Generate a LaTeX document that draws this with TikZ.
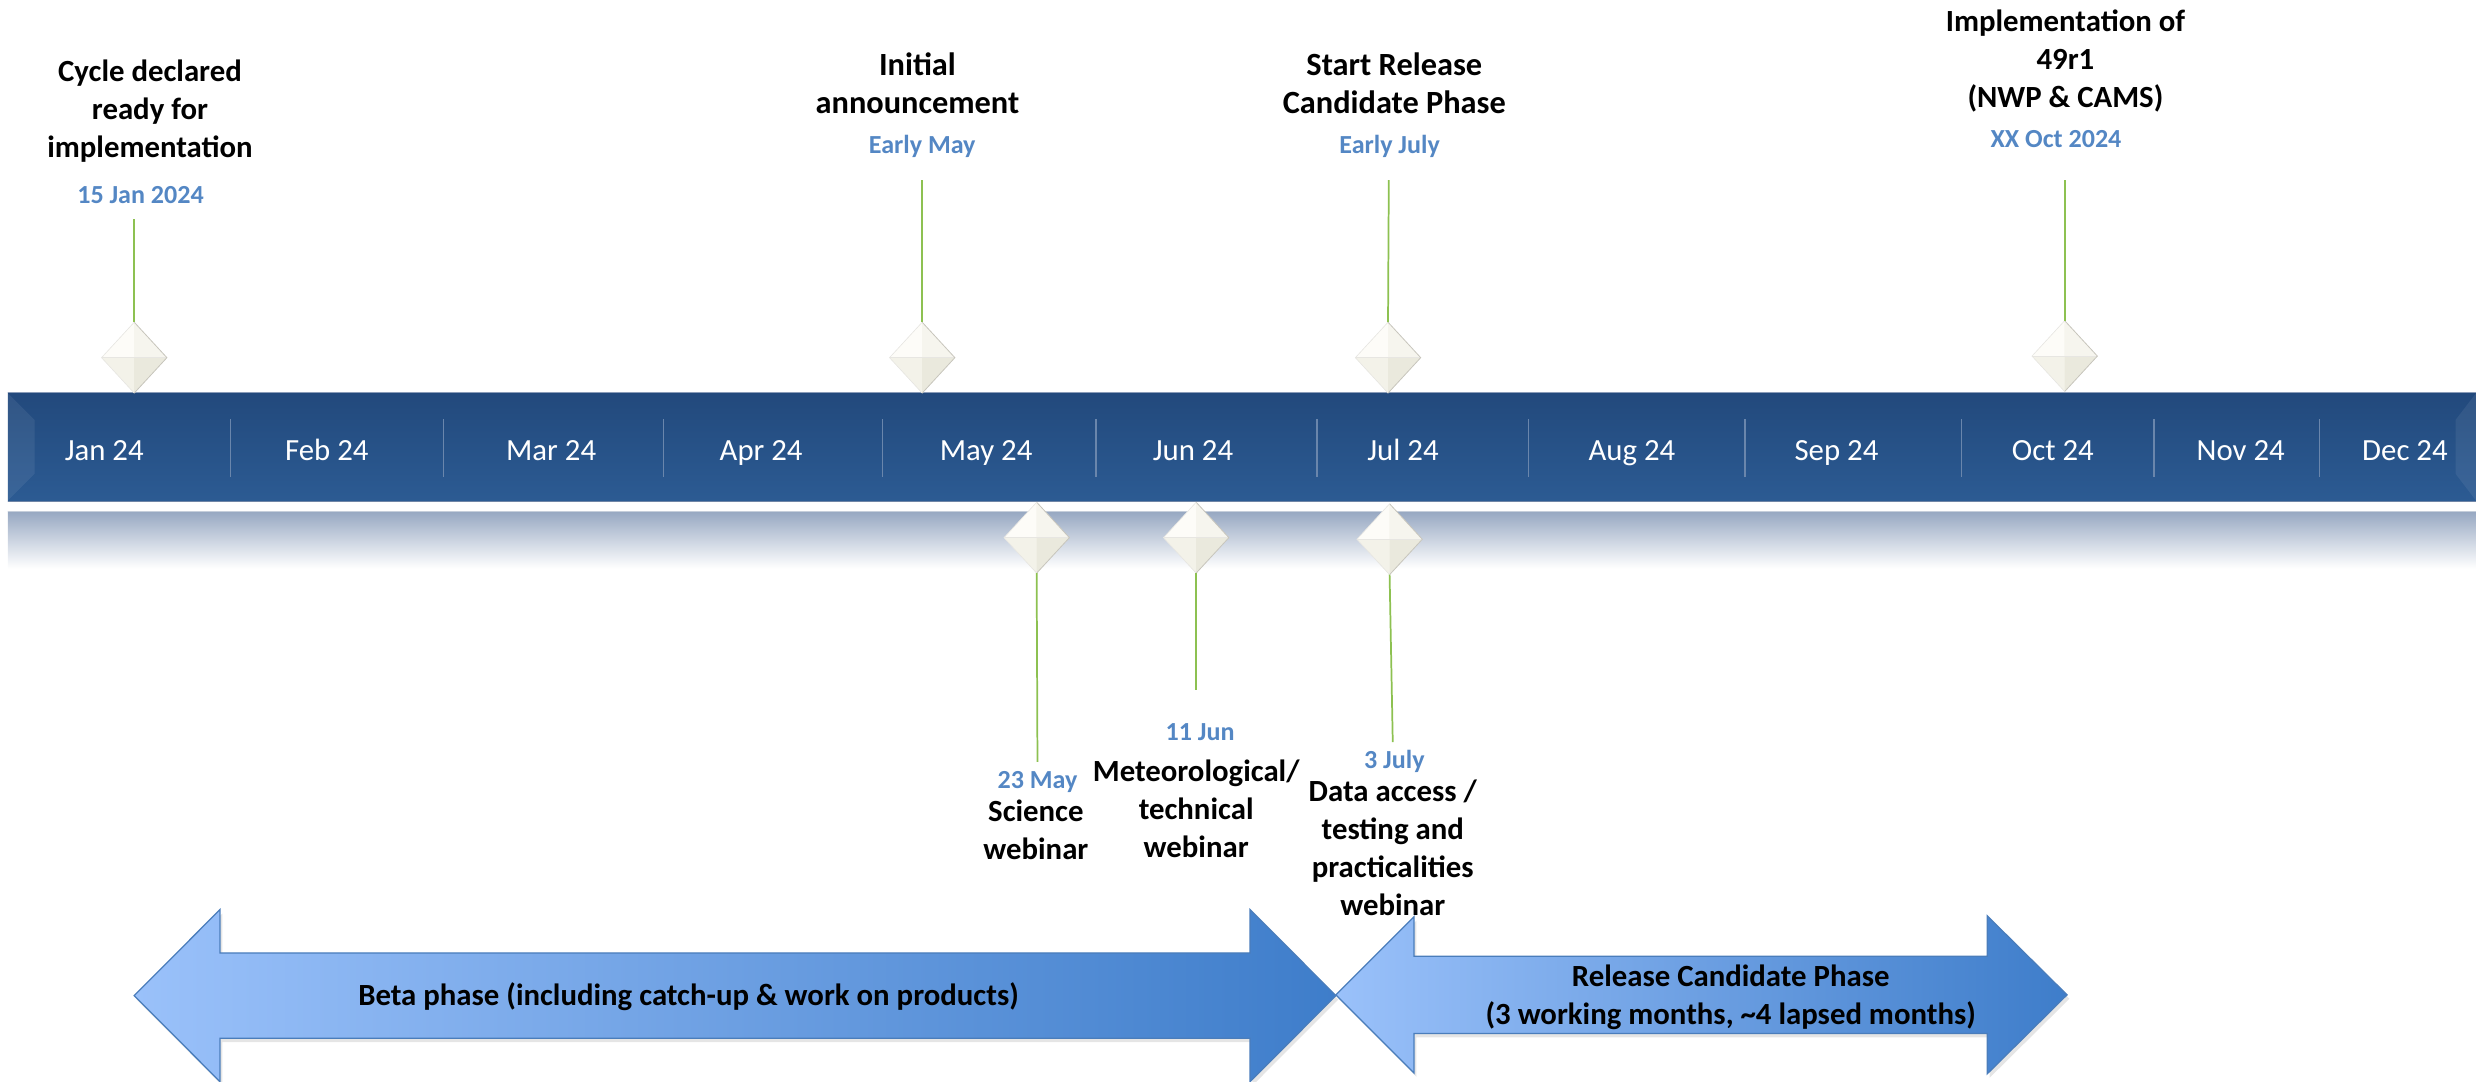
\documentclass[tikz,border=0pt]{standalone}
\usepackage{fontspec}
\setmainfont{Carlito}
\usetikzlibrary{shapes.geometric}
\definecolor{barTop}{HTML}{22497C}
\definecolor{barBot}{HTML}{2C5B93}
\definecolor{barEdge}{HTML}{8A9CB8}
\definecolor{barEdgeB}{HTML}{6F85A6}
\definecolor{sepc}{HTML}{6A86AC}
\definecolor{stemc}{HTML}{8DC151}
\definecolor{datec}{HTML}{5487C4}
\definecolor{arrLight}{HTML}{9AC1FA}
\definecolor{arrDark}{HTML}{3E7DCA}
\definecolor{arrEdge}{HTML}{4A7DBB}
\definecolor{shadowc}{HTML}{97A8C2}
\definecolor{shadowLine}{HTML}{C5CEDB}
\definecolor{gemBase}{HTML}{F6F5EE}
\definecolor{gemEdge}{HTML}{B9B7AB}
\definecolor{gemTL}{HTML}{FDFCF8}
\definecolor{gemTR}{HTML}{F6F5EE}
\definecolor{gemBL}{HTML}{F3F2E9}
\definecolor{gemBR}{HTML}{EAE9DD}
\newcommand\gemfacets[1]{%
  \fill[gemTL] (#1.north) -- (#1.west) -- (#1.center) -- cycle;
  \fill[gemTR] (#1.north) -- (#1.east) -- (#1.center) -- cycle;
  \fill[gemBL] (#1.south) -- (#1.west) -- (#1.center) -- cycle;
  \fill[gemBR] (#1.south) -- (#1.east) -- (#1.center) -- cycle;
  \draw[gemEdge!35,line width=0.3pt] (#1.west) -- (#1.east);
  \draw[gemEdge!80,line width=0.5pt] (#1.north) -- (#1.east) -- (#1.south);
  \draw[gemEdge!35,line width=0.4pt] (#1.north) -- (#1.west) -- (#1.south);
}
\newcommand\lines[1]{\begin{tabular}[t]{@{}c@{}}#1\end{tabular}}
\tikzset{
  titletxt/.style={font=\bfseries\fontsize{19.5}{24}\selectfont, anchor=base, inner sep=0pt},
  bigtitletxt/.style={font=\bfseries\fontsize{20.5}{24.3}\selectfont, anchor=base, inner sep=0pt},
  datetxt/.style={font=\bfseries\fontsize{16.5}{20}\selectfont, text=datec, anchor=base, inner sep=0pt},
  monthtxt/.style={font=\fontsize{19.5}{23}\selectfont, text=white, anchor=base, inner sep=0pt},
  gem/.style={shape=diamond, minimum width=41pt, minimum height=44.5pt, inner sep=0pt, fill=gemBase},
  stem/.style={draw=stemc, line width=1.1pt},
  sepline/.style={draw=sepc, line width=0.8pt},
  phasetxt/.style={font=\bfseries\fontsize{19.5}{24}\selectfont, anchor=base, inner sep=0pt},
  arrowbody/.style={draw=arrEdge, line width=0.8pt, left color=arrLight, right color=arrDark},
  arrowshadow/.style={fill=black, opacity=0.10, xshift=1.5pt, yshift=-2.5pt},
}
\begin{document}
\begin{tikzpicture}[x=1pt,y=-1pt]
\useasboundingbox (0,0) rectangle (1568,685);
% ---- timeline bar
\fill[top color=barTop,bottom color=barBot] (5,248.5) rectangle (1568,317.5);
\fill[white,opacity=0.07] (5,249) -- (22,266) -- (22,300) -- (5,317) -- cycle;
\fill[white,opacity=0.07] (1568,249) -- (1555,266) -- (1555,300) -- (1568,317) -- cycle;
\draw[barEdge,line width=0.8pt] (5,248.5) -- (1568,248.5);
\draw[barEdgeB,line width=0.8pt] (5,317.5) -- (1568,317.5);
% reflection band
\fill[top color=shadowc,bottom color=white] (5,324) rectangle (1568,360);
\draw[shadowLine,line width=0.6pt] (5,324) -- (1568,324);
% month separators
\foreach \x in {146,281,420,559,694,834,968,1105,1242,1364,1469}
  \draw[sepline] (\x,265.5) -- (\x,302);
% month labels
\node[monthtxt] (mJan) at (66,291.5) {Jan 24};
\node[monthtxt] (mFeb) at (207,291.5) {Feb 24};
\node[monthtxt] (mMar) at (349,291.5) {Mar 24};
\node[monthtxt] (mApr) at (482,291.5) {Apr 24};
\node[monthtxt] (mMay) at (624.5,291.5) {May 24};
\node[monthtxt] (mJun) at (755.5,291.5) {Jun 24};
\node[monthtxt] (mJul) at (888.5,291.5) {Jul 24};
\node[monthtxt] (mAug) at (1033.5,291.5) {Aug 24};
\node[monthtxt] (mSep) at (1163,291.5) {Sep 24};
\node[monthtxt] (mOct) at (1300,291.5) {Oct 24};
\node[monthtxt] (mNov) at (1419,291.5) {Nov 24};
\node[monthtxt] (mDec) at (1523,291.5) {Dec 24};
% ---- milestone diamonds
\node[gem] (gA) at (85,226.5) {};
\node[gem] (gB) at (584,226.5) {};
\node[gem] (gC) at (879,226.5) {};
\node[gem] (gD) at (1307.5,225.5) {};
\node[gem] (gE) at (656.5,340.5) {};
\node[gem] (gF) at (757.5,340.5) {};
\node[gem] (gG) at (880,341.5) {};
\gemfacets{gA}\gemfacets{gB}\gemfacets{gC}\gemfacets{gD}
\gemfacets{gE}\gemfacets{gF}\gemfacets{gG}
% ---- stems
\coordinate (sA) at (85,139);
\coordinate (sB) at (584,114);
\coordinate (sC) at (879.5,114);
\coordinate (sD) at (1307.5,114);
\coordinate (sE) at (657,482.5);
\coordinate (sF) at (757.5,437);
\coordinate (sG) at (882,470);
\draw[stem] (sA) -- (gA.north);
\draw[stem] (sB) -- (gB.north);
\draw[stem] (sC) -- (gC.north);
\draw[stem] (sD) -- (gD.north);
\draw[stem] (gE.south) -- (sE);
\draw[stem] (gF.south) -- (sF);
\draw[stem] (gG.south) -- (sG);
% ---- top texts
\node[titletxt] (tA) at (95,51.7) {\lines{Cycle declared\\ready for\\implementation}};
\node[datetxt] (dA) at (89,128.8) {15 Jan 2024};
\node[bigtitletxt] (tB) at (581,47.5) {\lines{Initial\\announcement}};
\node[datetxt] (dB) at (584,97) {Early May};
\node[bigtitletxt] (tC) at (883,47.5) {\lines{Start Release\\Candidate Phase}};
\node[datetxt] (dC) at (880,97) {Early July};
\node[titletxt] (tD) at (1308,20) {\lines{Implementation of\\49r1\\(NWP \& CAMS)}};
\node[datetxt] (dD) at (1302,93.2) {XX Oct 2024};
% ---- bottom texts
\node[datetxt] (dE) at (657,499.3) {23 May};
\node[titletxt] (tE) at (656,520.4) {\lines{Science\\webinar}};
\node[datetxt] (dF) at (760,468.7) {11 Jun};
\node[titletxt] (tF) at (757.5,495) {\lines{Meteorological/\\technical\\webinar}};
\node[datetxt] (dG) at (883,486.6) {3 July};
\node[titletxt] (tG) at (882,507.7) {\lines{Data access /\\testing and\\practicalities\\webinar}};
% ---- phase arrows
\fill[arrowshadow] (85,630.5) -- (139.3,576) -- (139.3,603.5) -- (791.6,603.5) -- (791.6,576) -- (846,630.5) -- (791.6,685) -- (791.6,657.5) -- (139.3,657.5) -- (139.3,685) -- cycle;
\path[arrowbody] (85,630.5) -- (139.3,576) -- (139.3,603.5) -- (791.6,603.5) -- (791.6,576) -- (846,630.5) -- (791.6,685) -- (791.6,657.5) -- (139.3,657.5) -- (139.3,685) -- cycle;
\fill[arrowshadow] (846,630) -- (895.5,580.5) -- (895.5,605.5) -- (1258.5,605.5) -- (1258.5,580) -- (1309,630) -- (1258.5,680) -- (1258.5,654.5) -- (895.5,654.5) -- (895.5,679.5) -- cycle;
\path[arrowbody] (846,630) -- (895.5,580.5) -- (895.5,605.5) -- (1258.5,605.5) -- (1258.5,580) -- (1309,630) -- (1258.5,680) -- (1258.5,654.5) -- (895.5,654.5) -- (895.5,679.5) -- cycle;
\node[phasetxt] (pBeta) at (436,636.5) {Beta phase (including catch-up \& work on products)};
\node[phasetxt] (pRC) at (1096,624.9) {\lines{Release Candidate Phase\\(3 working months, \textasciitilde4 lapsed months)}};
\end{tikzpicture}
\end{document}
